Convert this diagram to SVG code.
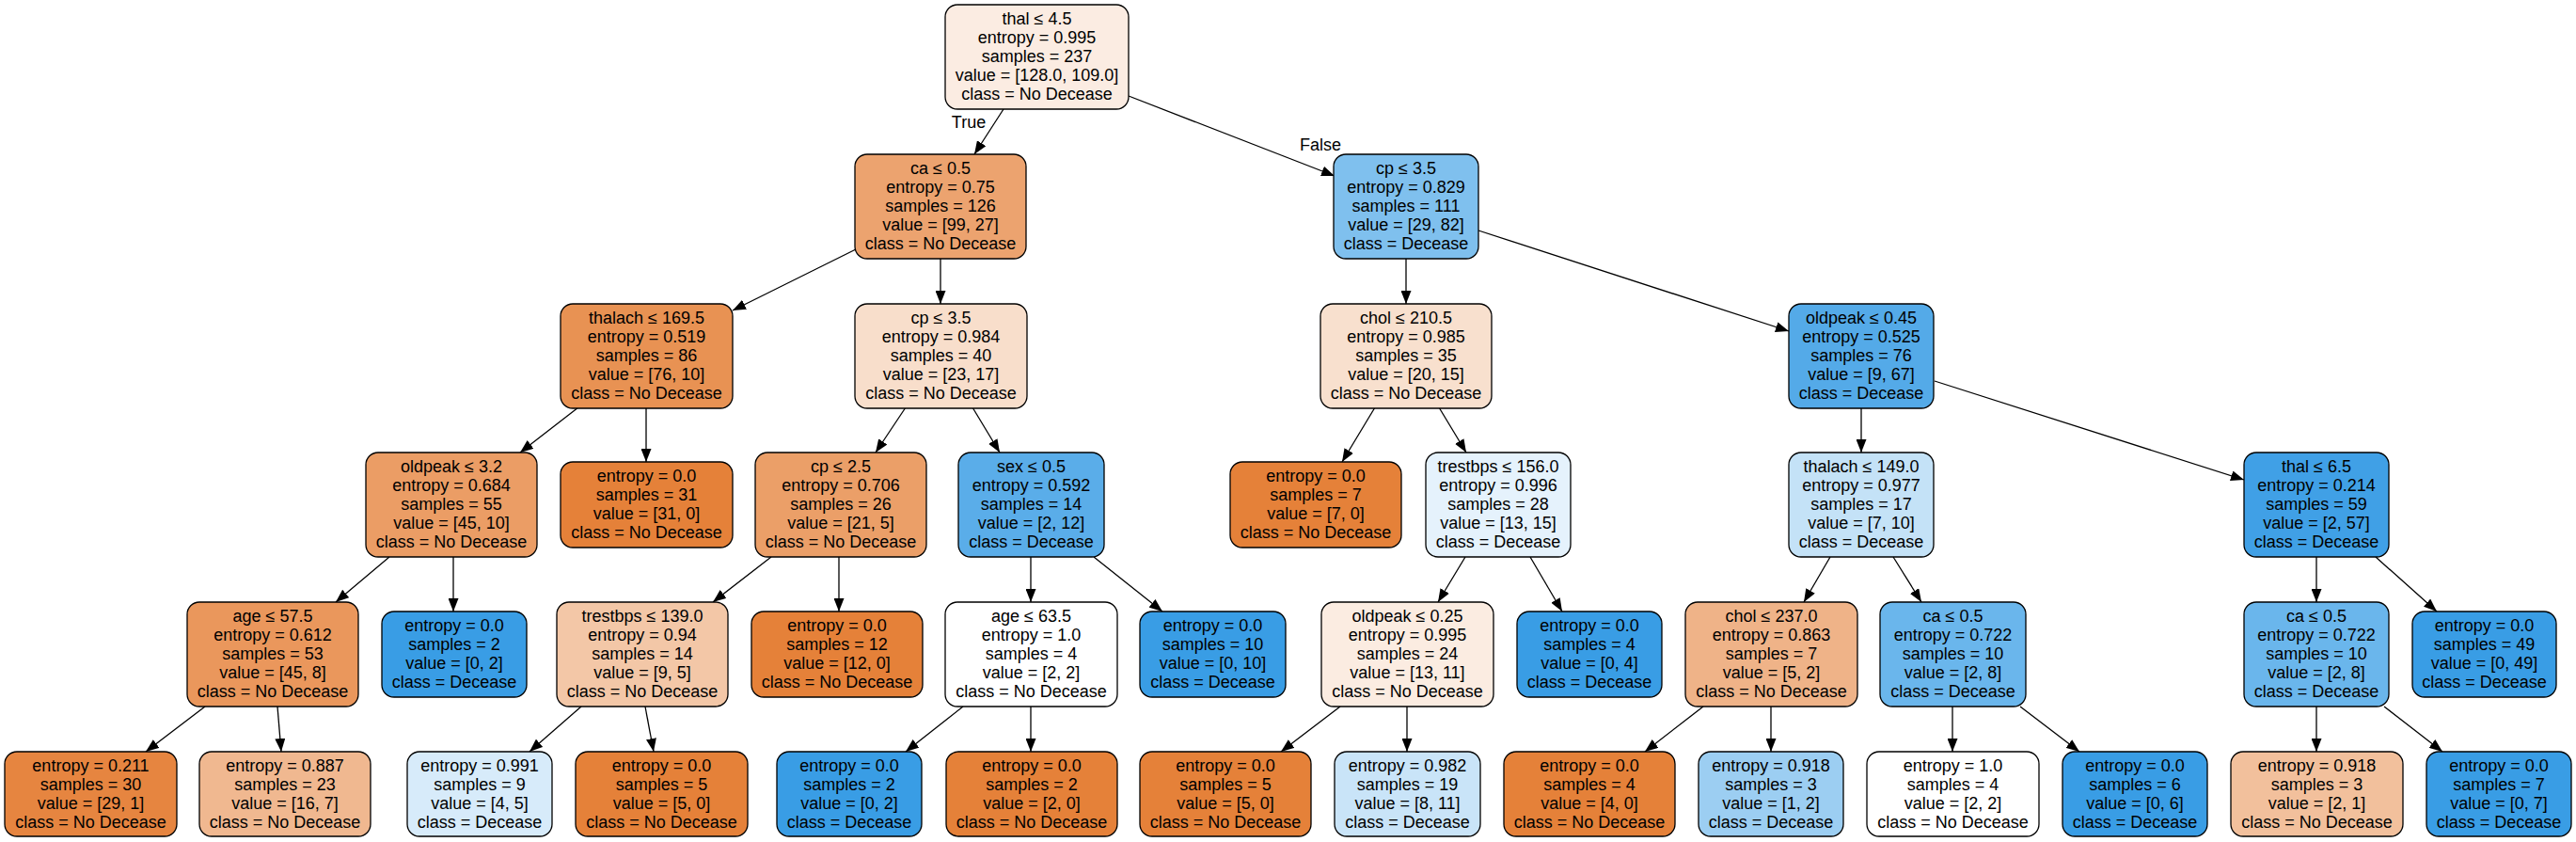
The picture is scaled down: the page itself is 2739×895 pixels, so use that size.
<svg xmlns="http://www.w3.org/2000/svg" width="2739" height="895" viewBox="0 0 2739 895">
<style>
.n rect{stroke:#000;stroke-width:1.3}
text{font-family:"Liberation Sans",Arial,Helvetica,sans-serif;font-size:18px;text-anchor:middle;fill:#000}
.e line{stroke:#000;stroke-width:1.3;marker-end:url(#ah)}
</style>
<defs>
<marker id="ah" markerUnits="userSpaceOnUse" markerWidth="15" markerHeight="11" refX="14" refY="5.5" orient="auto"><path d="M0,0 L14,5.5 L0,11 z" fill="#000"/></marker>
</defs>
<rect width="2739" height="895" fill="#fff"/>
<g id="edges" class="e">
<line x1="1067" y1="116" x2="1036" y2="164"/>
<line x1="1200" y1="102" x2="1419" y2="187"/>
<line x1="914" y1="263" x2="779" y2="330"/>
<line x1="1000" y1="275" x2="1000" y2="323"/>
<line x1="1495" y1="275" x2="1495" y2="323"/>
<line x1="1572" y1="245" x2="1902" y2="352"/>
<line x1="615" y1="433" x2="553" y2="481"/>
<line x1="687" y1="433" x2="687" y2="491"/>
<line x1="963" y1="433" x2="931" y2="481"/>
<line x1="1034" y1="433" x2="1063" y2="481"/>
<line x1="1462" y1="433" x2="1427" y2="491"/>
<line x1="1530" y1="433" x2="1559" y2="481"/>
<line x1="1979" y1="433" x2="1979" y2="481"/>
<line x1="2057" y1="405" x2="2386" y2="510"/>
<line x1="414" y1="592" x2="357" y2="640"/>
<line x1="482" y1="592" x2="482" y2="650"/>
<line x1="820" y1="592" x2="758" y2="640"/>
<line x1="892" y1="592" x2="892" y2="650"/>
<line x1="1096" y1="592" x2="1096" y2="640"/>
<line x1="1163" y1="592" x2="1236" y2="650"/>
<line x1="1558" y1="592" x2="1529" y2="640"/>
<line x1="1627" y1="592" x2="1661" y2="650"/>
<line x1="1946" y1="592" x2="1918" y2="640"/>
<line x1="2013" y1="592" x2="2043" y2="640"/>
<line x1="2463" y1="592" x2="2463" y2="640"/>
<line x1="2526" y1="592" x2="2591" y2="650"/>
<line x1="218" y1="751" x2="155" y2="799"/>
<line x1="295" y1="751" x2="299" y2="799"/>
<line x1="618" y1="751" x2="563" y2="799"/>
<line x1="686" y1="751" x2="695" y2="799"/>
<line x1="1024" y1="751" x2="963" y2="799"/>
<line x1="1096" y1="751" x2="1096" y2="799"/>
<line x1="1425" y1="751" x2="1362" y2="799"/>
<line x1="1496" y1="751" x2="1496" y2="799"/>
<line x1="1811" y1="751" x2="1749" y2="799"/>
<line x1="1883" y1="751" x2="1883" y2="799"/>
<line x1="2076" y1="751" x2="2076" y2="799"/>
<line x1="2148" y1="751" x2="2211" y2="799"/>
<line x1="2463" y1="751" x2="2463" y2="799"/>
<line x1="2535" y1="751" x2="2597" y2="799"/>
<text x="1030" y="136">True</text>
<text x="1404" y="160">False</text>
</g>
<g id="n0" class="n"><rect x="1005" y="5" width="195" height="111" rx="13" fill="#fbece2"/><text x="1102.5" y="26">thal ≤ 4.5</text><text x="1102.5" y="46">entropy = 0.995</text><text x="1102.5" y="66">samples = 237</text><text x="1102.5" y="86">value = [128.0, 109.0]</text><text x="1102.5" y="106">class = No Decease</text></g>
<g id="n1" class="n"><rect x="909" y="164" width="182" height="111" rx="13" fill="#eca36f"/><text x="1000" y="185">ca ≤ 0.5</text><text x="1000" y="205">entropy = 0.75</text><text x="1000" y="225">samples = 126</text><text x="1000" y="245">value = [99, 27]</text><text x="1000" y="265">class = No Decease</text></g>
<g id="n16" class="n"><rect x="1418" y="164" width="154" height="111" rx="13" fill="#7fc0ee"/><text x="1495" y="185">cp ≤ 3.5</text><text x="1495" y="205">entropy = 0.829</text><text x="1495" y="225">samples = 111</text><text x="1495" y="245">value = [29, 82]</text><text x="1495" y="265">class = Decease</text></g>
<g id="n2" class="n"><rect x="596" y="323" width="183" height="111" rx="13" fill="#e89253"/><text x="687.5" y="344">thalach ≤ 169.5</text><text x="687.5" y="364">entropy = 0.519</text><text x="687.5" y="384">samples = 86</text><text x="687.5" y="404">value = [76, 10]</text><text x="687.5" y="424">class = No Decease</text></g>
<g id="n7" class="n"><rect x="909" y="323" width="183" height="111" rx="13" fill="#f8decb"/><text x="1000.5" y="344">cp ≤ 3.5</text><text x="1000.5" y="364">entropy = 0.984</text><text x="1000.5" y="384">samples = 40</text><text x="1000.5" y="404">value = [23, 17]</text><text x="1000.5" y="424">class = No Decease</text></g>
<g id="n17" class="n"><rect x="1404" y="323" width="182" height="111" rx="13" fill="#f8e0ce"/><text x="1495" y="344">chol ≤ 210.5</text><text x="1495" y="364">entropy = 0.985</text><text x="1495" y="384">samples = 35</text><text x="1495" y="404">value = [20, 15]</text><text x="1495" y="424">class = No Decease</text></g>
<g id="n24" class="n"><rect x="1902" y="323" width="154" height="111" rx="13" fill="#54aae8"/><text x="1979" y="344">oldpeak ≤ 0.45</text><text x="1979" y="364">entropy = 0.525</text><text x="1979" y="384">samples = 76</text><text x="1979" y="404">value = [9, 67]</text><text x="1979" y="424">class = Decease</text></g>
<g id="n3" class="n"><rect x="389" y="481" width="182" height="111" rx="13" fill="#eb9d65"/><text x="480" y="502">oldpeak ≤ 3.2</text><text x="480" y="522">entropy = 0.684</text><text x="480" y="542">samples = 55</text><text x="480" y="562">value = [45, 10]</text><text x="480" y="582">class = No Decease</text></g>
<g id="n6" class="n"><rect x="596" y="491" width="183" height="91" rx="13" fill="#e58139"/><text x="687.5" y="512">entropy = 0.0</text><text x="687.5" y="532">samples = 31</text><text x="687.5" y="552">value = [31, 0]</text><text x="687.5" y="572">class = No Decease</text></g>
<g id="n8" class="n"><rect x="803" y="481" width="182" height="111" rx="13" fill="#eb9f68"/><text x="894" y="502">cp ≤ 2.5</text><text x="894" y="522">entropy = 0.706</text><text x="894" y="542">samples = 26</text><text x="894" y="562">value = [21, 5]</text><text x="894" y="582">class = No Decease</text></g>
<g id="n13" class="n"><rect x="1019" y="481" width="155" height="111" rx="13" fill="#5aade9"/><text x="1096.5" y="502">sex ≤ 0.5</text><text x="1096.5" y="522">entropy = 0.592</text><text x="1096.5" y="542">samples = 14</text><text x="1096.5" y="562">value = [2, 12]</text><text x="1096.5" y="582">class = Decease</text></g>
<g id="n18" class="n"><rect x="1308" y="491" width="182" height="91" rx="13" fill="#e58139"/><text x="1399" y="512">entropy = 0.0</text><text x="1399" y="532">samples = 7</text><text x="1399" y="552">value = [7, 0]</text><text x="1399" y="572">class = No Decease</text></g>
<g id="n19" class="n"><rect x="1516" y="481" width="154" height="111" rx="13" fill="#e5f2fc"/><text x="1593" y="502">trestbps ≤ 156.0</text><text x="1593" y="522">entropy = 0.996</text><text x="1593" y="542">samples = 28</text><text x="1593" y="562">value = [13, 15]</text><text x="1593" y="582">class = Decease</text></g>
<g id="n25" class="n"><rect x="1902" y="481" width="154" height="111" rx="13" fill="#c4e2f7"/><text x="1979" y="502">thalach ≤ 149.0</text><text x="1979" y="522">entropy = 0.977</text><text x="1979" y="542">samples = 17</text><text x="1979" y="562">value = [7, 10]</text><text x="1979" y="582">class = Decease</text></g>
<g id="n32" class="n"><rect x="2386" y="481" width="154" height="111" rx="13" fill="#40a0e6"/><text x="2463" y="502">thal ≤ 6.5</text><text x="2463" y="522">entropy = 0.214</text><text x="2463" y="542">samples = 59</text><text x="2463" y="562">value = [2, 57]</text><text x="2463" y="582">class = Decease</text></g>
<g id="n4" class="n"><rect x="199" y="640" width="182" height="111" rx="13" fill="#ea975c"/><text x="290" y="661">age ≤ 57.5</text><text x="290" y="681">entropy = 0.612</text><text x="290" y="701">samples = 53</text><text x="290" y="721">value = [45, 8]</text><text x="290" y="741">class = No Decease</text></g>
<g id="n5b" class="n"><rect x="406" y="650" width="154" height="91" rx="13" fill="#399de5"/><text x="483" y="671">entropy = 0.0</text><text x="483" y="691">samples = 2</text><text x="483" y="711">value = [0, 2]</text><text x="483" y="731">class = Decease</text></g>
<g id="n9" class="n"><rect x="592" y="640" width="182" height="111" rx="13" fill="#f3c7a7"/><text x="683" y="661">trestbps ≤ 139.0</text><text x="683" y="681">entropy = 0.94</text><text x="683" y="701">samples = 14</text><text x="683" y="721">value = [9, 5]</text><text x="683" y="741">class = No Decease</text></g>
<g id="n12" class="n"><rect x="799" y="650" width="182" height="91" rx="13" fill="#e58139"/><text x="890" y="671">entropy = 0.0</text><text x="890" y="691">samples = 12</text><text x="890" y="711">value = [12, 0]</text><text x="890" y="731">class = No Decease</text></g>
<g id="n14" class="n"><rect x="1005" y="640" width="183" height="111" rx="13" fill="#ffffff"/><text x="1096.5" y="661">age ≤ 63.5</text><text x="1096.5" y="681">entropy = 1.0</text><text x="1096.5" y="701">samples = 4</text><text x="1096.5" y="721">value = [2, 2]</text><text x="1096.5" y="741">class = No Decease</text></g>
<g id="n15b" class="n"><rect x="1212" y="650" width="155" height="91" rx="13" fill="#399de5"/><text x="1289.5" y="671">entropy = 0.0</text><text x="1289.5" y="691">samples = 10</text><text x="1289.5" y="711">value = [0, 10]</text><text x="1289.5" y="731">class = Decease</text></g>
<g id="n20" class="n"><rect x="1405" y="640" width="183" height="111" rx="13" fill="#fbece1"/><text x="1496.5" y="661">oldpeak ≤ 0.25</text><text x="1496.5" y="681">entropy = 0.995</text><text x="1496.5" y="701">samples = 24</text><text x="1496.5" y="721">value = [13, 11]</text><text x="1496.5" y="741">class = No Decease</text></g>
<g id="n23" class="n"><rect x="1613" y="650" width="154" height="91" rx="13" fill="#399de5"/><text x="1690" y="671">entropy = 0.0</text><text x="1690" y="691">samples = 4</text><text x="1690" y="711">value = [0, 4]</text><text x="1690" y="731">class = Decease</text></g>
<g id="n26" class="n"><rect x="1792" y="640" width="183" height="111" rx="13" fill="#efb388"/><text x="1883.5" y="661">chol ≤ 237.0</text><text x="1883.5" y="681">entropy = 0.863</text><text x="1883.5" y="701">samples = 7</text><text x="1883.5" y="721">value = [5, 2]</text><text x="1883.5" y="741">class = No Decease</text></g>
<g id="n29" class="n"><rect x="1999" y="640" width="155" height="111" rx="13" fill="#6ab6ec"/><text x="2076.5" y="661">ca ≤ 0.5</text><text x="2076.5" y="681">entropy = 0.722</text><text x="2076.5" y="701">samples = 10</text><text x="2076.5" y="721">value = [2, 8]</text><text x="2076.5" y="741">class = Decease</text></g>
<g id="n33" class="n"><rect x="2386" y="640" width="154" height="111" rx="13" fill="#6ab6ec"/><text x="2463" y="661">ca ≤ 0.5</text><text x="2463" y="681">entropy = 0.722</text><text x="2463" y="701">samples = 10</text><text x="2463" y="721">value = [2, 8]</text><text x="2463" y="741">class = Decease</text></g>
<g id="n36" class="n"><rect x="2565" y="650" width="153" height="91" rx="13" fill="#399de5"/><text x="2641.5" y="671">entropy = 0.0</text><text x="2641.5" y="691">samples = 49</text><text x="2641.5" y="711">value = [0, 49]</text><text x="2641.5" y="731">class = Decease</text></g>
<g id="n5" class="n"><rect x="5" y="799" width="183" height="90" rx="13" fill="#e68540"/><text x="96.5" y="820">entropy = 0.211</text><text x="96.5" y="840">samples = 30</text><text x="96.5" y="860">value = [29, 1]</text><text x="96.5" y="880">class = No Decease</text></g>
<g id="n5c" class="n"><rect x="212" y="799" width="182" height="90" rx="13" fill="#f0b890"/><text x="303" y="820">entropy = 0.887</text><text x="303" y="840">samples = 23</text><text x="303" y="860">value = [16, 7]</text><text x="303" y="880">class = No Decease</text></g>
<g id="n10" class="n"><rect x="433" y="799" width="154" height="90" rx="13" fill="#d7ebfa"/><text x="510" y="820">entropy = 0.991</text><text x="510" y="840">samples = 9</text><text x="510" y="860">value = [4, 5]</text><text x="510" y="880">class = Decease</text></g>
<g id="n11" class="n"><rect x="612" y="799" width="183" height="90" rx="13" fill="#e58139"/><text x="703.5" y="820">entropy = 0.0</text><text x="703.5" y="840">samples = 5</text><text x="703.5" y="860">value = [5, 0]</text><text x="703.5" y="880">class = No Decease</text></g>
<g id="n15" class="n"><rect x="826" y="799" width="154" height="90" rx="13" fill="#399de5"/><text x="903" y="820">entropy = 0.0</text><text x="903" y="840">samples = 2</text><text x="903" y="860">value = [0, 2]</text><text x="903" y="880">class = Decease</text></g>
<g id="n15c" class="n"><rect x="1006" y="799" width="182" height="90" rx="13" fill="#e58139"/><text x="1097" y="820">entropy = 0.0</text><text x="1097" y="840">samples = 2</text><text x="1097" y="860">value = [2, 0]</text><text x="1097" y="880">class = No Decease</text></g>
<g id="n21" class="n"><rect x="1212" y="799" width="182" height="90" rx="13" fill="#e58139"/><text x="1303" y="820">entropy = 0.0</text><text x="1303" y="840">samples = 5</text><text x="1303" y="860">value = [5, 0]</text><text x="1303" y="880">class = No Decease</text></g>
<g id="n22" class="n"><rect x="1419" y="799" width="155" height="90" rx="13" fill="#c9e4f8"/><text x="1496.5" y="820">entropy = 0.982</text><text x="1496.5" y="840">samples = 19</text><text x="1496.5" y="860">value = [8, 11]</text><text x="1496.5" y="880">class = Decease</text></g>
<g id="n27" class="n"><rect x="1599" y="799" width="182" height="90" rx="13" fill="#e58139"/><text x="1690" y="820">entropy = 0.0</text><text x="1690" y="840">samples = 4</text><text x="1690" y="860">value = [4, 0]</text><text x="1690" y="880">class = No Decease</text></g>
<g id="n28" class="n"><rect x="1806" y="799" width="154" height="90" rx="13" fill="#9ccef2"/><text x="1883" y="820">entropy = 0.918</text><text x="1883" y="840">samples = 3</text><text x="1883" y="860">value = [1, 2]</text><text x="1883" y="880">class = Decease</text></g>
<g id="n30" class="n"><rect x="1985" y="799" width="183" height="90" rx="13" fill="#ffffff"/><text x="2076.5" y="820">entropy = 1.0</text><text x="2076.5" y="840">samples = 4</text><text x="2076.5" y="860">value = [2, 2]</text><text x="2076.5" y="880">class = No Decease</text></g>
<g id="n31" class="n"><rect x="2193" y="799" width="154" height="90" rx="13" fill="#399de5"/><text x="2270" y="820">entropy = 0.0</text><text x="2270" y="840">samples = 6</text><text x="2270" y="860">value = [0, 6]</text><text x="2270" y="880">class = Decease</text></g>
<g id="n34" class="n"><rect x="2372" y="799" width="183" height="90" rx="13" fill="#f2c09c"/><text x="2463.5" y="820">entropy = 0.918</text><text x="2463.5" y="840">samples = 3</text><text x="2463.5" y="860">value = [2, 1]</text><text x="2463.5" y="880">class = No Decease</text></g>
<g id="n35" class="n"><rect x="2580" y="799" width="154" height="90" rx="13" fill="#399de5"/><text x="2657" y="820">entropy = 0.0</text><text x="2657" y="840">samples = 7</text><text x="2657" y="860">value = [0, 7]</text><text x="2657" y="880">class = Decease</text></g>
</svg>
